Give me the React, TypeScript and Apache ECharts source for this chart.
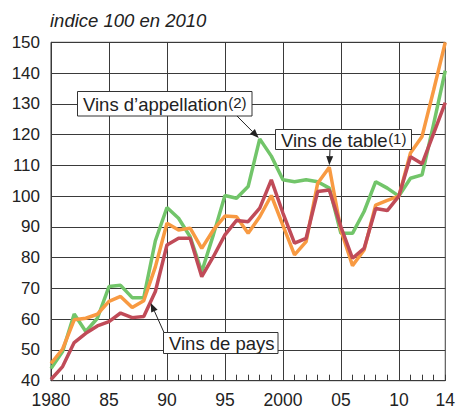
import React, { useEffect, useRef } from 'react';
import * as echarts from 'echarts';

const years = [1980, 1981, 1982, 1983, 1984, 1985, 1986, 1987, 1988, 1989, 1990, 1991, 1992, 1993, 1994, 1995, 1996, 1997, 1998, 1999, 2000, 2001, 2002, 2003, 2004, 2005, 2006, 2007, 2008, 2009, 2010, 2011, 2012, 2013, 2014];

const vinsAppellation = [44, 49.5, 61.7, 56, 60.3, 70.6, 71, 67, 67, 85.5, 96.3, 92.8, 86.8, 75.4, 87.4, 100.2, 99.3, 103.1, 118.6, 113, 105.3, 104.7, 105.3, 104.7, 102.6, 87.9, 87.9, 95, 104.7, 102.6, 100, 105.8, 106.9, 123.5, 140.8];

const vinsTable = [45.6, 50.3, 59.8, 60.3, 61.6, 65.8, 67.4, 63.8, 66, 77, 91.2, 89, 89.6, 83, 89, 93.5, 93.3, 87.9, 93.3, 100.2, 90.5, 80.9, 85.2, 104.2, 109.4, 89, 77.4, 82.5, 97.1, 98.6, 100, 114, 119.4, 134.5, 150];

const vinsPays = [40.4, 44.6, 52.4, 55.4, 57.8, 59.2, 62, 60.5, 60.9, 69, 84.1, 86.3, 86.3, 73.8, 80.3, 87.4, 92.1, 91.7, 96.1, 105.3, 94.5, 84.7, 86.3, 101.5, 102, 90, 79.8, 83, 96, 95.3, 100, 112.8, 110.5, 120.4, 130.4];

const xLabelYears = [1980, 1985, 1990, 1995, 2000, 2005, 2010, 2014];
const xLabelTexts = ['1980', '85', '90', '95', '2000', '05', '10', '14'];

const FONT = "'Liberation Sans', Arial, Helvetica, sans-serif";
const GRID_COLOR = '#3a3a3a';
const TEXT_COLOR = '#222';
const MAIN_FONT = `18.5px ${FONT}`;
const SUP_FONT = `15px ${FONT}`;

function measure(text: string, font: string): number {
  const c = document.createElement('canvas').getContext('2d');
  if (!c) return text.length * 9;
  c.font = font;
  return c.measureText(text).width;
}

function arrow(from: number[], to: number[]) {
  const dx = to[0] - from[0];
  const dy = to[1] - from[1];
  const len = Math.sqrt(dx * dx + dy * dy);
  const ux = dx / len;
  const uy = dy / len;
  const headLen = 9;
  const headHalf = 3.5;
  const bx = to[0] - ux * headLen;
  const by = to[1] - uy * headLen;
  return [
    {
      type: 'line',
      z: 100,
      shape: { x1: from[0], y1: from[1], x2: bx, y2: by },
      style: { stroke: '#222', lineWidth: 1 },
    },
    {
      type: 'polygon',
      z: 100,
      shape: {
        points: [
          [to[0], to[1]],
          [bx - uy * headHalf, by + ux * headHalf],
          [bx + uy * headHalf, by - ux * headHalf],
        ],
      },
      style: { fill: '#222' },
    },
  ];
}

function labelBox(x: number, y: number, w: number, h: number, main: string, sup: string | null) {
  const textX = x + 5.5;
  const els: any[] = [
    {
      type: 'rect',
      z: 100,
      shape: { x, y, width: w, height: h },
      style: { fill: '#fff', stroke: '#333', lineWidth: 1 },
    },
    {
      type: 'text',
      z: 101,
      x: textX,
      y: y + h / 2 + 0.5,
      style: { text: main, font: MAIN_FONT, fill: TEXT_COLOR, verticalAlign: 'middle', align: 'left' },
    },
  ];
  if (sup) {
    els.push({
      type: 'text',
      z: 101,
      x: textX + measure(main, MAIN_FONT) + 0.5,
      y: y + h / 2 - 1,
      style: { text: sup, font: SUP_FONT, fill: TEXT_COLOR, verticalAlign: 'middle', align: 'left' },
    });
  }
  return els;
}

export default function App() {
  const ref = useRef<HTMLDivElement>(null);

  useEffect(() => {
    if (!ref.current) return;
    const chart = echarts.init(ref.current, null, { renderer: 'svg' });
    const pairs = (arr: number[]) => years.map((y, i) => [y, arr[i]]);

    const clear = 'rgba(0,0,0,0)';
    const splitColors = [GRID_COLOR, clear, clear, clear, clear];

    chart.setOption({
      animation: false,
      grid: {
        left: 51,
        right: 11.5,
        top: 42.3,
        bottom: 30.3,
        show: true,
        borderColor: GRID_COLOR,
        borderWidth: 1,
        backgroundColor: clear,
      },
      xAxis: {
        type: 'value',
        min: 1980,
        max: 2014,
        interval: 1,
        axisLine: { show: true, lineStyle: { color: GRID_COLOR, width: 1 } },
        axisTick: { show: true, inside: true, length: 6, lineStyle: { color: GRID_COLOR, width: 1 } },
        axisLabel: {
          formatter: (v: number) => {
            const i = xLabelYears.indexOf(Math.round(v));
            return i >= 0 ? xLabelTexts[i] : '';
          },
          fontSize: 17.5,
          fontFamily: FONT,
          color: TEXT_COLOR,
          margin: 10,
        },
        splitLine: { show: true, lineStyle: { color: splitColors, width: 1 } },
      },
      yAxis: {
        type: 'value',
        min: 40,
        max: 150,
        interval: 10,
        axisLine: { show: true, lineStyle: { color: GRID_COLOR, width: 1 } },
        axisTick: { show: false },
        axisLabel: { fontSize: 17, fontFamily: FONT, color: TEXT_COLOR, margin: 11 },
        splitLine: { show: true, lineStyle: { color: GRID_COLOR, width: 1 } },
      },
      series: [
        {
          name: "Vins d'appellation",
          type: 'line',
          data: pairs(vinsAppellation),
          showSymbol: false,
          symbol: 'none',
          lineStyle: { color: '#72c56a', width: 3.5 },
          z: 3,
        },
        {
          name: 'Vins de table',
          type: 'line',
          data: pairs(vinsTable),
          showSymbol: false,
          symbol: 'none',
          lineStyle: { color: '#f89a42', width: 3.5 },
          z: 4,
        },
        {
          name: 'Vins de pays',
          type: 'line',
          data: pairs(vinsPays),
          showSymbol: false,
          symbol: 'none',
          lineStyle: { color: '#c04b58', width: 3.5 },
          z: 5,
        },
      ],
    });

    const px = (x: number, y: number) => chart.convertToPixel({ gridIndex: 0 }, [x, y]) as number[];
    const iA = years.indexOf(1998);
    const iT = years.indexOf(2004);
    const iP = years.indexOf(1988);
    const tipA = px(1998, vinsAppellation[iA]);
    const tipT = px(2004, vinsTable[iT]);
    const tFrac = 0.6;
    const tipP = px(1988 + tFrac, vinsPays[iP] + tFrac * (vinsPays[iP + 1] - vinsPays[iP]));

    const graphics: any[] = [
      {
        type: 'text',
        z: 101,
        x: 50,
        y: 20,
        style: { text: 'indice 100 en 2010', font: `italic 18.5px ${FONT}`, fill: TEXT_COLOR, verticalAlign: 'middle', align: 'left' },
      },
      ...labelBox(77.5, 91.5, 174.5, 24.5, 'Vins d’appellation', '(2)'),
      ...arrow([237, 116], [tipA[0] - 1, tipA[1] - 1]),
      ...labelBox(275.5, 129.5, 136, 20, 'Vins de table', '(1)'),
      ...arrow([330, 149.5], [tipT[0], tipT[1] - 2]),
      ...labelBox(163.5, 332.5, 114.5, 21, 'Vins de pays', null),
      ...arrow([164, 332.5], [tipP[0], tipP[1] + 1.5]),
    ];
    chart.setOption({ graphic: graphics });

    return () => {
      chart.dispose();
    };
  }, []);

  return (
    <div
      ref={ref}
      style={{ position: 'fixed', left: 0, top: 0, width: 458, height: 411, background: '#fff' }}
    />
  );
}
